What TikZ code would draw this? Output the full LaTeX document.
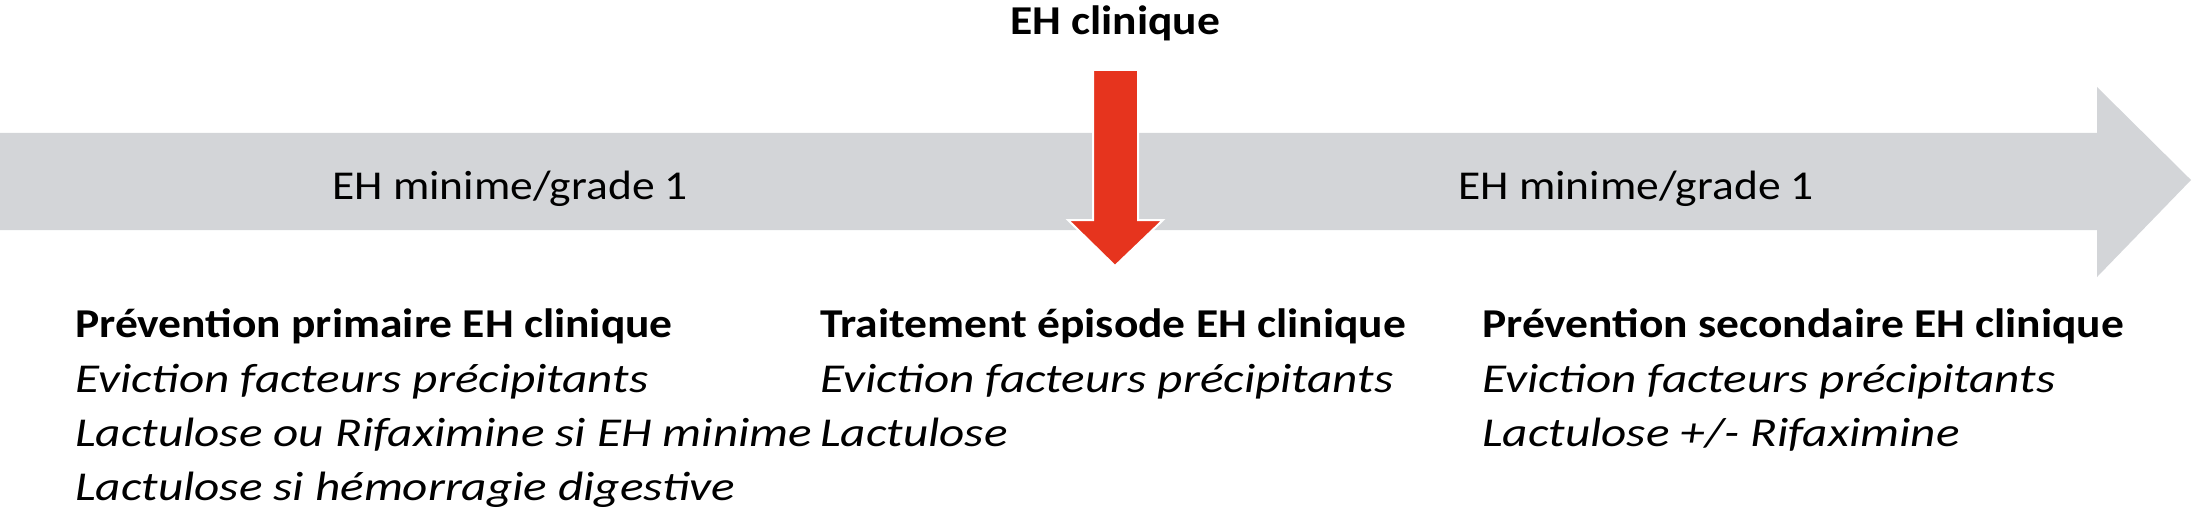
\documentclass[tikz,border=0pt]{standalone}
\usepackage{fontspec}
\setmainfont{Carlito}[FakeStretch=1.11]
\newfontfamily\itfam{Carlito}[UprightFont=* Italic,FakeStretch=1.2]
\definecolor{gr}{RGB}{211,213,216}
\definecolor{rd}{RGB}{230,52,30}
\begin{document}
\begin{tikzpicture}[x=1pt,y=-1pt,
  lbl/.style={anchor=base west,font=\fontsize{41}{48}\selectfont,inner sep=0},
  ttl/.style={lbl,font=\fontsize{41}{48}\selectfont\bfseries},
  it/.style={lbl,font=\fontsize{41}{48}\selectfont\itfam}]
\useasboundingbox (0,0) rectangle (2197,516);
\fill[gr] (0,133) -- (2097,133) -- (2097,87) -- (2191,180) -- (2097,277) -- (2097,230) -- (0,230) -- cycle;
\fill[rd,draw=white,line width=2] (1093,70) -- (1138,70) -- (1138,220) -- (1163,220) -- (1115,266) -- (1068,220) -- (1093,220) -- cycle;
\node[ttl,anchor=base] (top) at (1115,35) {EH clinique};
\node[lbl] (l1) at (332,199) {EH minime/grade 1};
\node[lbl] (l2) at (1458,199) {EH minime/grade 1};
\node[ttl] (a1) at (75,337) {Prévention primaire EH clinique};
\node[it] (a2) at (75,392) {Eviction facteurs précipitants};
\node[it] (a3) at (75,446) {Lactulose ou Rifaximine si EH minime};
\node[it] (a4) at (75,500) {Lactulose si hémorragie digestive};
\node[ttl] (b1) at (820,337) {Traitement épisode EH clinique};
\node[it] (b2) at (820,392) {Eviction facteurs précipitants};
\node[it] (b3) at (820,446) {Lactulose};
\node[ttl] (c1) at (1482,337) {Prévention secondaire EH clinique};
\node[it] (c2) at (1482,392) {Eviction facteurs précipitants};
\node[it] (c3) at (1482,446) {Lactulose +/- Rifaximine};
\end{tikzpicture}
\end{document}
